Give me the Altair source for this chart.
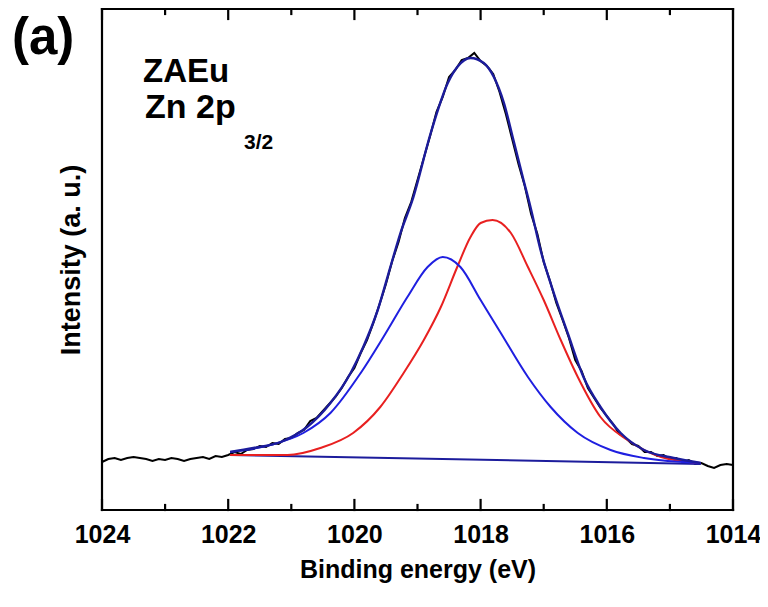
import altair as alt
import pandas as pd

# ---- raw spectrum (binding energy in eV, intensity in a.u.) ----
raw_energy = [round(1024.0 - 0.1 * i, 1) for i in range(101)]
raw_intensity = [
    48, 51, 52, 50, 52, 53, 52, 51, 49, 51,
    50, 52, 51, 49, 51, 52, 53, 51, 54, 53,
    55, 58, 56, 60, 61, 64, 63, 67, 66, 71,
    72, 77, 80, 89, 92, 99, 106, 113, 122, 133,
    142, 157, 170, 187, 206, 226, 249, 268, 292, 308,
    330, 352, 374, 398, 413, 433, 440, 450, 452, 457,
    449, 444, 436, 418, 396, 371, 346, 324, 296, 276,
    248, 229, 207, 190, 172, 150, 139, 122, 112, 102,
    94, 86, 76, 72, 66, 64, 58, 58, 54, 55,
    51, 52, 48, 50, 46, 47, 44, 42, 45, 46,
    45,
]

# ---- fitted envelope ----
env_energy = [1021.97, 1021.60, 1021.17, 1020.75, 1020.38, 1020.06, 1019.86, 1019.63,
              1019.43, 1019.27, 1019.08, 1018.79, 1018.52, 1018.37, 1018.16, 1017.95,
              1017.79, 1017.63, 1017.48, 1017.32, 1017.21, 1017.05, 1016.84, 1016.62,
              1016.37, 1016.10, 1015.78, 1015.41, 1014.94, 1014.51]
env_intensity = [58, 62, 68, 83, 107, 137, 163, 200,
                 243, 277, 310, 377, 427, 443, 452, 447,
                 433, 407, 370, 330, 303, 260, 217, 177,
                 133, 103, 77, 60, 52, 47]

# ---- component 1 (blue, higher BE) ----
blue_energy = [1021.97, 1021.33, 1020.81, 1020.38, 1019.90, 1019.54, 1019.16, 1018.84,
               1018.60, 1018.32, 1018.00, 1017.68, 1017.25, 1016.89, 1016.46, 1015.94,
               1015.41, 1014.51]
blue_intensity = [58, 65, 77, 97, 137, 173, 213, 243,
                  253, 243, 210, 177, 133, 103, 77, 60,
                  52, 47]

# ---- component 2 (red, lower BE) ----
red_energy = [1021.97, 1021.06, 1020.54, 1020.02, 1019.59, 1019.22, 1018.90, 1018.63,
              1018.37, 1018.16, 1018.00, 1017.81, 1017.52, 1017.25, 1017.00, 1016.73,
              1016.46, 1016.10, 1015.67, 1015.14, 1014.51]
red_intensity = [55, 55, 62, 77, 103, 137, 170, 203,
                 243, 273, 287, 290, 277, 243, 210, 170,
                 133, 93, 70, 53, 47]

# ---- background ----
bg_energy = [1021.97, 1014.51]
bg_intensity = [55, 46]

major_ticks = [1024, 1022, 1020, 1018, 1016, 1014]
minor_ticks = [1023, 1021, 1019, 1017, 1015]

FONT = "Liberation Sans"
W, H = 631, 501
X_DOMAIN = [1024, 1014]
Y_DOMAIN = [0, 501]
MAJOR_LEN, MINOR_LEN = 10, 5   # in y-units (1 unit = 1 px here)

xscale = alt.Scale(domain=X_DOMAIN, nice=False, zero=False)
yscale = alt.Scale(domain=Y_DOMAIN, nice=False, zero=False)

xaxis = alt.Axis(values=major_ticks, format="d", ticks=False, domain=False, grid=False,
                 labelFont=FONT, labelFontSize=25, labelFontWeight="bold", labelColor="black",
                 labelPadding=12, labelFlush=False,
                 title="Binding energy (eV)", titleFont=FONT, titleFontSize=25,
                 titleFontWeight="bold", titleColor="black", titlePadding=10)
yaxis = alt.Axis(labels=False, ticks=False, domain=False, grid=False,
                 title="Intensity (a. u.)", titleFont=FONT, titleFontSize=27,
                 titleFontWeight="bold", titleColor="black", titlePadding=17)

def line(energy, inten, color, width, interp):
    df = pd.DataFrame({"E": energy, "I": inten})
    return alt.Chart(df).mark_line(stroke=color, strokeWidth=width, interpolate=interp).encode(
        x=alt.X("E:Q", scale=xscale, axis=xaxis),
        y=alt.Y("I:Q", scale=yscale, axis=yaxis),
        order=alt.Order("E:Q", sort="descending"),
    )

raw = line(raw_energy, raw_intensity, "#000000", 2, "linear")
env = line(env_energy, env_intensity, "#1c1c9c", 2.4, "monotone")
blue = line(blue_energy, blue_intensity, "#1f1fe0", 2, "monotone")
red = line(red_energy, red_intensity, "#e82020", 2, "monotone")
bg = line(bg_energy, bg_intensity, "#1c1c9c", 2, "linear")

# ---- frame and inward ticks, built from the axis domain and tick lists ----
seg_rows = []
sid = 0
lo, hi = Y_DOMAIN
for (e0, i0, e1, i1) in [(X_DOMAIN[0], lo, X_DOMAIN[1], lo), (X_DOMAIN[0], hi, X_DOMAIN[1], hi),
                         (X_DOMAIN[0], lo, X_DOMAIN[0], hi), (X_DOMAIN[1], lo, X_DOMAIN[1], hi)]:
    seg_rows += [{"s": sid, "k": 0, "E": e0, "I": i0}, {"s": sid, "k": 1, "E": e1, "I": i1}]
    sid += 1
for ticks, ln in [(major_ticks, MAJOR_LEN), (minor_ticks, MINOR_LEN)]:
    for t in ticks:
        seg_rows += [{"s": sid, "k": 0, "E": t, "I": lo}, {"s": sid, "k": 1, "E": t, "I": lo + ln}]
        sid += 1
        seg_rows += [{"s": sid, "k": 0, "E": t, "I": hi}, {"s": sid, "k": 1, "E": t, "I": hi - ln}]
        sid += 1
frame = alt.Chart(pd.DataFrame(seg_rows)).mark_line(
    stroke="#000000", strokeWidth=2.2, strokeCap="square").encode(
    x=alt.X("E:Q", scale=xscale, axis=xaxis),
    y=alt.Y("I:Q", scale=yscale, axis=yaxis),
    detail="s:N", order="k:Q")

def label(text, x, y, size):
    return alt.Chart(pd.DataFrame({"t": [text]})).mark_text(
        font=FONT, fontSize=size, fontWeight="bold", color="black",
        align="left", baseline="alphabetic").encode(
        text="t:N", x=alt.value(x), y=alt.value(y))

texts = [
    label("(a)", -90, 45, 51),
    label("ZAEu", 41, 73, 33),
    label("Zn 2p", 43, 109, 34),
    label("3/2", 142, 140, 21),
]

chart = alt.layer(raw, bg, red, blue, env, frame, *texts).properties(
    width=W, height=H,
    autosize=alt.AutoSizeParams(type="none"),
    padding={"left": 94, "top": 1, "right": 27, "bottom": 89},
).configure_view(stroke="#000000", strokeWidth=2)

chart.save("out.html", embed_options={"renderer": "svg", "actions": False})
